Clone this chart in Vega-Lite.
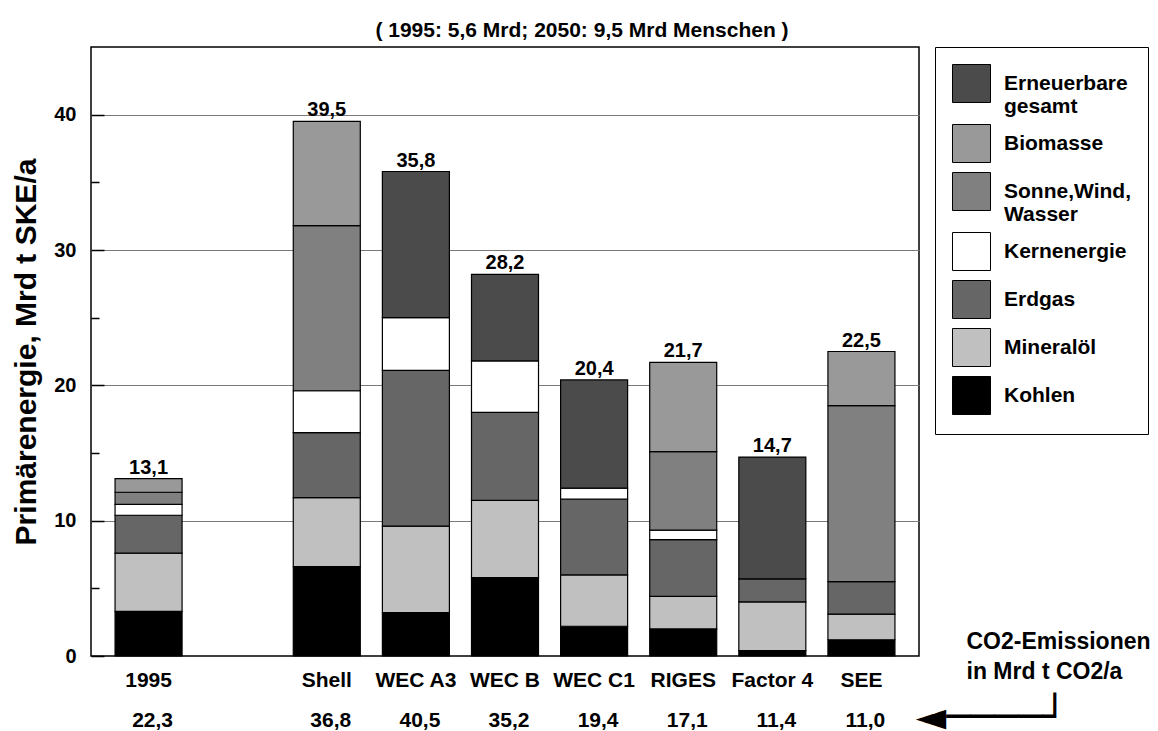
{
  "$schema": "https://vega.github.io/schema/vega-lite/v6.json",
  "width": 828,
  "height": 609,
  "autosize": {"type": "none"},
  "padding": {"left": 91, "top": 47, "right": 239, "bottom": 75},
  "background": "white",
  "title": {
    "text": "( 1995: 5,6 Mrd; 2050: 9,5 Mrd Menschen )",
    "font": "Liberation Sans",
    "fontSize": 21,
    "fontWeight": "bold",
    "color": "black",
    "anchor": "middle",
    "baseline": "alphabetic",
    "dx": 77,
    "offset": -11
  },
  "datasets": {
    "energy": [
      {"scenario": "1995", "source": "Kohlen", "value": 3.3},
      {"scenario": "1995", "source": "Mineralöl", "value": 4.3},
      {"scenario": "1995", "source": "Erdgas", "value": 2.8},
      {"scenario": "1995", "source": "Kernenergie", "value": 0.8},
      {"scenario": "1995", "source": "Sonne,Wind,Wasser", "value": 0.9},
      {"scenario": "1995", "source": "Biomasse", "value": 1.0},
      {"scenario": "Shell", "source": "Kohlen", "value": 6.6},
      {"scenario": "Shell", "source": "Mineralöl", "value": 5.1},
      {"scenario": "Shell", "source": "Erdgas", "value": 4.8},
      {"scenario": "Shell", "source": "Kernenergie", "value": 3.1},
      {"scenario": "Shell", "source": "Sonne,Wind,Wasser", "value": 12.2},
      {"scenario": "Shell", "source": "Biomasse", "value": 7.7},
      {"scenario": "WEC A3", "source": "Kohlen", "value": 3.2},
      {"scenario": "WEC A3", "source": "Mineralöl", "value": 6.4},
      {"scenario": "WEC A3", "source": "Erdgas", "value": 11.5},
      {"scenario": "WEC A3", "source": "Kernenergie", "value": 3.9},
      {"scenario": "WEC A3", "source": "Erneuerbare gesamt", "value": 10.8},
      {"scenario": "WEC B", "source": "Kohlen", "value": 5.8},
      {"scenario": "WEC B", "source": "Mineralöl", "value": 5.7},
      {"scenario": "WEC B", "source": "Erdgas", "value": 6.5},
      {"scenario": "WEC B", "source": "Kernenergie", "value": 3.8},
      {"scenario": "WEC B", "source": "Erneuerbare gesamt", "value": 6.4},
      {"scenario": "WEC C1", "source": "Kohlen", "value": 2.2},
      {"scenario": "WEC C1", "source": "Mineralöl", "value": 3.8},
      {"scenario": "WEC C1", "source": "Erdgas", "value": 5.6},
      {"scenario": "WEC C1", "source": "Kernenergie", "value": 0.8},
      {"scenario": "WEC C1", "source": "Erneuerbare gesamt", "value": 8.0},
      {"scenario": "RIGES", "source": "Kohlen", "value": 2.0},
      {"scenario": "RIGES", "source": "Mineralöl", "value": 2.4},
      {"scenario": "RIGES", "source": "Erdgas", "value": 4.2},
      {"scenario": "RIGES", "source": "Kernenergie", "value": 0.7},
      {"scenario": "RIGES", "source": "Sonne,Wind,Wasser", "value": 5.8},
      {"scenario": "RIGES", "source": "Biomasse", "value": 6.6},
      {"scenario": "Factor 4", "source": "Kohlen", "value": 0.4},
      {"scenario": "Factor 4", "source": "Mineralöl", "value": 3.6},
      {"scenario": "Factor 4", "source": "Erdgas", "value": 1.7},
      {"scenario": "Factor 4", "source": "Erneuerbare gesamt", "value": 9.0},
      {"scenario": "SEE", "source": "Kohlen", "value": 1.2},
      {"scenario": "SEE", "source": "Mineralöl", "value": 1.9},
      {"scenario": "SEE", "source": "Erdgas", "value": 2.4},
      {"scenario": "SEE", "source": "Sonne,Wind,Wasser", "value": 13.0},
      {"scenario": "SEE", "source": "Biomasse", "value": 4.0}
    ],
    "scen": [
      {"scenario": "1995", "value": 13.1, "label": "13,1", "co2": "22,3"},
      {"scenario": "Shell", "value": 39.5, "label": "39,5", "co2": "36,8"},
      {"scenario": "WEC A3", "value": 35.8, "label": "35,8", "co2": "40,5"},
      {"scenario": "WEC B", "value": 28.2, "label": "28,2", "co2": "35,2"},
      {"scenario": "WEC C1", "value": 20.4, "label": "20,4", "co2": "19,4"},
      {"scenario": "RIGES", "value": 21.7, "label": "21,7", "co2": "17,1"},
      {"scenario": "Factor 4", "value": 14.7, "label": "14,7", "co2": "11,4"},
      {"scenario": "SEE", "value": 22.5, "label": "22,5", "co2": "11,0"}
    ],
    "arrow": [
      {"scenario": "SEE", "glyph": "◄────┘"}
    ]
  },
  "encoding": {
    "x": {
      "field": "scenario",
      "type": "nominal",
      "scale": {
        "domain": ["1995", " ", "Shell", "WEC A3", "WEC B", "WEC C1", "RIGES", "Factor 4", "SEE"],
        "paddingInner": 0.248,
        "paddingOuter": 0.27
      },
      "axis": {
        "domain": false,
        "ticks": false,
        "grid": false,
        "labelAngle": 0,
        "labelFont": "Liberation Sans",
        "labelFontSize": 21,
        "labelFontWeight": "bold",
        "labelColor": "black",
        "labelPadding": 13,
        "title": ["CO2-Emissionen", "in Mrd t CO2/a"],
        "titleX": 875,
        "titleY": -8,
        "titleAlign": "left",
        "titleBaseline": "alphabetic",
        "titleFont": "Liberation Sans",
        "titleFontSize": 23,
        "titleFontWeight": "bold",
        "titleColor": "black",
        "titleLineHeight": 30
      }
    }
  },
  "layer": [
    {
      "data": {"name": "energy"},
      "transform": [
        {"calculate": "indexof(['Kohlen','Mineralöl','Erdgas','Kernenergie','Sonne,Wind,Wasser','Biomasse','Erneuerbare gesamt'], datum.source)", "as": "ord"}
      ],
      "mark": {"type": "bar", "stroke": "black", "strokeWidth": 1.2},
      "encoding": {
        "y": {
          "field": "value",
          "type": "quantitative",
          "stack": "zero",
          "title": "Primärenergie, Mrd t SKE/a",
          "scale": {"domain": [0, 45], "nice": false},
          "axis": {
            "values": [0, 5, 10, 15, 20, 25, 30, 35, 40],
            "domain": false,
            "grid": true,
            "gridColor": "#7a7a7a",
            "gridWidth": 1,
            "gridOpacity": {"condition": {"test": "datum.value % 10 === 0 && datum.value > 0", "value": 1}, "value": 0},
            "ticks": true,
            "tickColor": "black",
            "tickWidth": 1.5,
            "tickSize": {"condition": {"test": "datum.value % 10 === 0", "value": -13}, "value": -8},
            "labelExpr": "datum.value % 10 === 0 ? datum.label : ''",
            "labelFont": "Liberation Sans",
            "labelFontSize": 20,
            "labelFontWeight": "bold",
            "labelColor": "black",
            "labelPadding": 28,
            "titleFont": "Liberation Sans",
            "titleFontSize": 30,
            "titleFontWeight": "bold",
            "titleColor": "black",
            "titlePadding": 12
          }
        },
        "color": {
          "field": "source",
          "type": "nominal",
          "scale": {
            "domain": ["Erneuerbare gesamt", "Biomasse", "Sonne,Wind,Wasser", "Kernenergie", "Erdgas", "Mineralöl", "Kohlen"],
            "range": ["#4b4b4b", "#999999", "#808080", "#ffffff", "#666666", "#c0c0c0", "#000000"]
          },
          "legend": {
            "orient": "none",
            "legendX": 844,
            "legendY": 0,
            "title": null,
            "symbolType": "square",
            "symbolSize": 1444,
            "symbolStrokeColor": "black",
            "symbolStrokeWidth": 1,
            "symbolOpacity": 1,
            "labelFont": "Liberation Sans",
            "labelFontSize": 21,
            "labelFontWeight": "bold",
            "labelColor": "black",
            "labelOffset": 13,
            "labelLimit": 300,
            "rowPadding": 5,
            "padding": 17,
            "strokeColor": "black",
            "fillColor": "white",
            "labelExpr": "datum.label == 'Erneuerbare gesamt' ? ['Erneuerbare', 'gesamt'] : datum.label == 'Sonne,Wind,Wasser' ? ['Sonne,Wind,', 'Wasser'] : datum.label"
          }
        },
        "order": {"field": "ord", "type": "quantitative"}
      }
    },
    {
      "data": {"name": "scen"},
      "mark": {"type": "text", "baseline": "alphabetic", "dy": -5, "font": "Liberation Sans", "fontSize": 20, "fontWeight": "bold", "color": "black"},
      "encoding": {
        "y": {"field": "value", "type": "quantitative", "title": "Primärenergie, Mrd t SKE/a"},
        "text": {"field": "label"}
      }
    },
    {
      "data": {"name": "scen"},
      "mark": {"type": "text", "baseline": "alphabetic", "dx": 4, "dy": 71, "font": "Liberation Sans", "fontSize": 21, "fontWeight": "bold", "color": "black"},
      "encoding": {
        "y": {"datum": 0},
        "text": {"field": "co2"}
      }
    },
    {
      "data": {"name": "arrow"},
      "mark": {"type": "text", "align": "left", "baseline": "alphabetic", "dx": 54, "dy": 74, "font": "DejaVu Sans", "fontSize": 40, "color": "black"},
      "encoding": {
        "y": {"datum": 0},
        "text": {"field": "glyph"}
      }
    }
  ],
  "config": {
    "view": {"stroke": "black", "strokeWidth": 1.5},
    "font": "Liberation Sans"
  }
}
